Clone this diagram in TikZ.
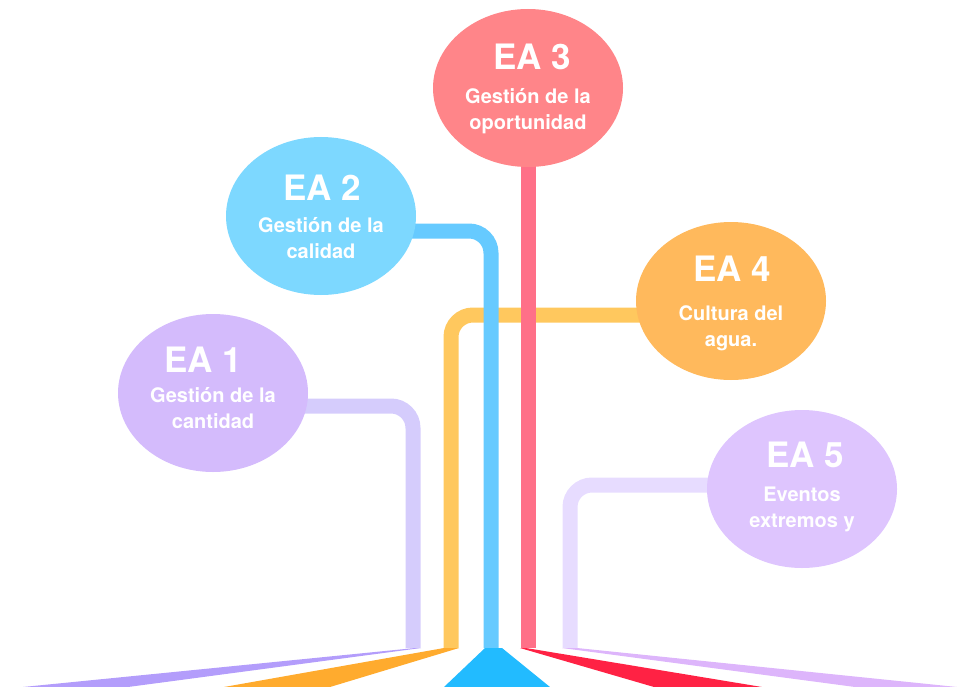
\documentclass[tikz,border=0pt]{standalone}
\usepackage{fontspec}
\setmainfont{TeX Gyre Heros}
\usetikzlibrary{shapes.geometric,backgrounds,calc}
\definecolor{bubA}{HTML}{D4BBFC}
\definecolor{bubB}{HTML}{7DD8FF}
\definecolor{bubC}{HTML}{FF8589}
\definecolor{bubD}{HTML}{FFB95C}
\definecolor{bubE}{HTML}{DEC5FE}
\definecolor{lnA}{HTML}{D5CCFC}
\definecolor{lnB}{HTML}{66CAFF}
\definecolor{lnC}{HTML}{FF7088}
\definecolor{lnD}{HTML}{FFC85E}
\definecolor{lnE}{HTML}{E7DCFF}
\definecolor{fanA}{HTML}{B39DFB}
\definecolor{fanB}{HTML}{22BBFF}
\definecolor{fanC}{HTML}{FF2244}
\definecolor{fanD}{HTML}{FFAB2E}
\definecolor{fanE}{HTML}{DDB5FB}
\tikzset{
  bubble/.style={ellipse, inner sep=0pt, minimum width=190, minimum height=158},
  link/.style={line width=15, rounded corners=22},
  eatitle/.style={text=white, font=\fontsize{35}{40}\selectfont\bfseries, inner sep=0pt, anchor=base},
  easub/.style={text=white, font=\fontsize{20}{26}\selectfont\bfseries, align=center, inner sep=0pt, anchor=base}
}
\begin{document}
\begin{tikzpicture}[
  x=1pt, y=-1pt,
  cA/.style={fill=bubA},
  cB/.style={fill=bubB},
  cC/.style={fill=bubC},
  cD/.style={fill=bubD},
  cE/.style={fill=bubE}
]
\useasboundingbox (0,0) rectangle (957,687);

\node[bubble,cA] (ea1) at (213,393) {};
\node[bubble,cB] (ea2) at (321,216) {};
\node[bubble,cC] (ea3) at (528,88)  {};
\node[bubble,cD] (ea4) at (731,301) {};
\node[bubble,cE] (ea5) at (802,489) {};

\node[eatitle] (t1) at ([xshift=-10,yshift=21]ea1.center) {EA 1};
\node[eatitle] (t2) at ([xshift=1,yshift=16]ea2.center)   {EA 2};
\node[eatitle] (t3) at ([xshift=4,yshift=18]ea3.center)   {EA 3};
\node[eatitle] (t4) at ([xshift=1,yshift=20]ea4.center)   {EA 4};
\node[eatitle] (t5) at ([xshift=3,yshift=22]ea5.center)   {EA 5};

\node[easub] (s1) at ([yshift=-35]ea1.center) {Gestión de la\\cantidad};
\node[easub] (s2) at ([yshift=-42]ea2.center) {Gestión de la\\calidad};
\node[easub] (s3) at ([yshift=-42]ea3.center) {Gestión de la\\oportunidad};
\node[easub] (s4) at ([yshift=-45]ea4.center) {Cultura del\\agua.};
\node[easub] (s5) at ([yshift=-38]ea5.center) {Eventos\\extremos y};

\coordinate (b1) at (413,648);
\coordinate (b2) at (491,648);
\coordinate (b3) at (528,648);
\coordinate (b4) at (451,648);
\coordinate (b5) at (570,648);

\begin{scope}[on background layer]
  \draw[link, lnD] ([yshift=-14]ea4.center) -| (b4);
  \draw[link, lnA] ([yshift=-13]ea1.center) -| (b1);
  \draw[link, lnE] ([yshift=4]ea5.center) -| (b5);
  \draw[link, lnB] ([yshift=-15]ea2.center) -| (b2);
  \draw[link, lnC] (ea3.center) -- (b3);
\end{scope}

\foreach \c/\a/\b/\p/\q in {fanA/415/421/128/23, fanD/444/459/330/224,
  fanB/485/502/550/444, fanC/520/526/762/654, fanE/562/577/957/855}{
  \fill[\c] (\a,648) -- (\b,648) -- (\p,687) -- (\q,687) -- cycle;
}

\end{tikzpicture}
\end{document}
